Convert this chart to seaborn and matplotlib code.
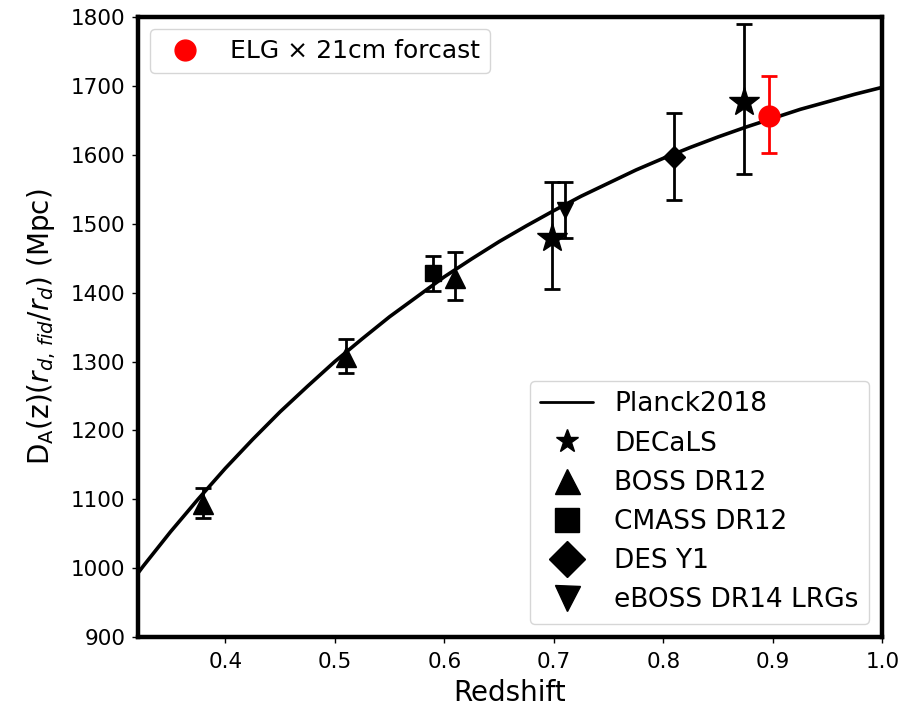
import matplotlib
matplotlib.use("Agg")
import matplotlib.pyplot as plt
from matplotlib.lines import Line2D
import seaborn as sns
import pandas as pd

# Planck2018 curve
planck_z = [0.300, 0.325, 0.350, 0.375, 0.400, 0.425, 0.450, 0.475, 0.500, 0.525,
            0.550, 0.575, 0.600, 0.625, 0.650, 0.675, 0.700, 0.725, 0.750, 0.775,
            0.800, 0.825, 0.850, 0.875, 0.900, 0.925, 0.950, 0.975, 1.000]
planck_da = [950, 1003, 1053, 1100, 1145, 1187, 1227, 1264, 1300, 1333,
             1365, 1394, 1423, 1449, 1474, 1497, 1519, 1540, 1559, 1578,
             1595, 1611, 1626, 1640, 1653, 1666, 1677, 1688, 1698]

# Measurements
decals_z = [0.698, 0.874]
decals_da = [1479, 1677]
decals_lo = [73, 105]
decals_hi = [81, 113]

boss_z = [0.38, 0.51, 0.61]
boss_da = [1094, 1306, 1421]
boss_lo = [21, 23, 31]
boss_hi = [22, 27, 38]

cmass_z = [0.59]
cmass_da = [1428]
cmass_lo = [26]
cmass_hi = [25]

des_z = [0.81]
des_da = [1597]
des_lo = [63]
des_hi = [64]

eboss_z = [0.71]
eboss_da = [1520]
eboss_lo = [40]
eboss_hi = [40]

elg_z = [0.896]
elg_da = [1657]
elg_lo = [55]
elg_hi = [57]

xticks = [0.4, 0.5, 0.6, 0.7, 0.8, 0.9, 1.0]
yticks = [900, 1000, 1100, 1200, 1300, 1400, 1500, 1600, 1700, 1800]

sns.set_theme(style="ticks", context="notebook")
plt.rcParams['font.family'] = ['DejaVu Sans']
plt.rcParams['mathtext.fontset'] = 'dejavusans'
plt.rcParams['text.color'] = 'black'
plt.rcParams['axes.labelcolor'] = 'black'

fig = plt.figure(figsize=(9.24, 7.08), dpi=100)
ax = fig.add_axes([0.149, 0.100, 0.806, 0.876])

df = pd.DataFrame({"z": planck_z, "da": planck_da})
sns.lineplot(data=df, x="z", y="da", ax=ax, color="black", linewidth=2.6,
             legend=False)

def eb(z, d, lo, hi, marker, ms, color="black"):
    ax.errorbar(z, d, yerr=[lo, hi], fmt=marker, color=color, ms=ms,
                elinewidth=2.0, capsize=6, capthick=2.0, zorder=3)

eb(boss_z, boss_da, boss_lo, boss_hi, "^", 15)
eb(cmass_z, cmass_da, cmass_lo, cmass_hi, "s", 11)
eb(des_z, des_da, des_lo, des_hi, "D", 11)
eb(eboss_z, eboss_da, eboss_lo, eboss_hi, "v", 12)
eb(decals_z, decals_da, decals_lo, decals_hi, "*", 22)
eb(elg_z, elg_da, elg_lo, elg_hi, "o", 15, color="red")

ax.set_xlim(0.32, 1.0)
ax.set_ylim(900, 1800)
ax.set_xticks(xticks)
ax.set_yticks(yticks)
ax.set_xticklabels([f"{t:.1f}" for t in xticks])
ax.tick_params(axis="both", labelsize=15.5, length=4, width=1, direction="out",
               pad=5, color="black", labelcolor="black")
ax.tick_params(axis="x", pad=7)
for s in ax.spines.values():
    s.set_visible(True)
    s.set_linewidth(3.2)
    s.set_color("black")

ax.set_xlabel("Redshift", fontsize=20, color="black", labelpad=5)
ax.set_ylabel(r"D$_\mathrm{A}$(z)$(r_{d,\,fid}/r_d)$ (Mpc)", fontsize=20,
              color="black", labelpad=9)

handles2 = [
    Line2D([], [], color="black", lw=2.0, label="Planck2018"),
    Line2D([], [], color="black", marker="*", ms=17, ls="none", label="DECaLS"),
    Line2D([], [], color="black", marker="^", ms=18, ls="none", label="BOSS DR12"),
    Line2D([], [], color="black", marker="s", ms=17, ls="none", label="CMASS DR12"),
    Line2D([], [], color="black", marker="D", ms=18, ls="none", label="DES Y1"),
    Line2D([], [], color="black", marker="v", ms=18, ls="none", label="eBOSS DR14 LRGs"),
]
leg2 = ax.legend(handles=handles2, loc="lower right", fontsize=19, frameon=True,
                 framealpha=0.8, edgecolor="#cccccc", fancybox=True)
for t in leg2.get_texts():
    t.set_color("black")
ax.add_artist(leg2)
handles1 = [Line2D([], [], color="red", marker="o", ms=15, ls="none",
                   label="ELG × 21cm forcast")]
leg1 = ax.legend(handles=handles1, loc="upper left", fontsize=18, frameon=True,
                 framealpha=0.8, edgecolor="#cccccc", fancybox=True)
for t in leg1.get_texts():
    t.set_color("black")

fig.savefig("out.png", dpi=100, facecolor="white")
